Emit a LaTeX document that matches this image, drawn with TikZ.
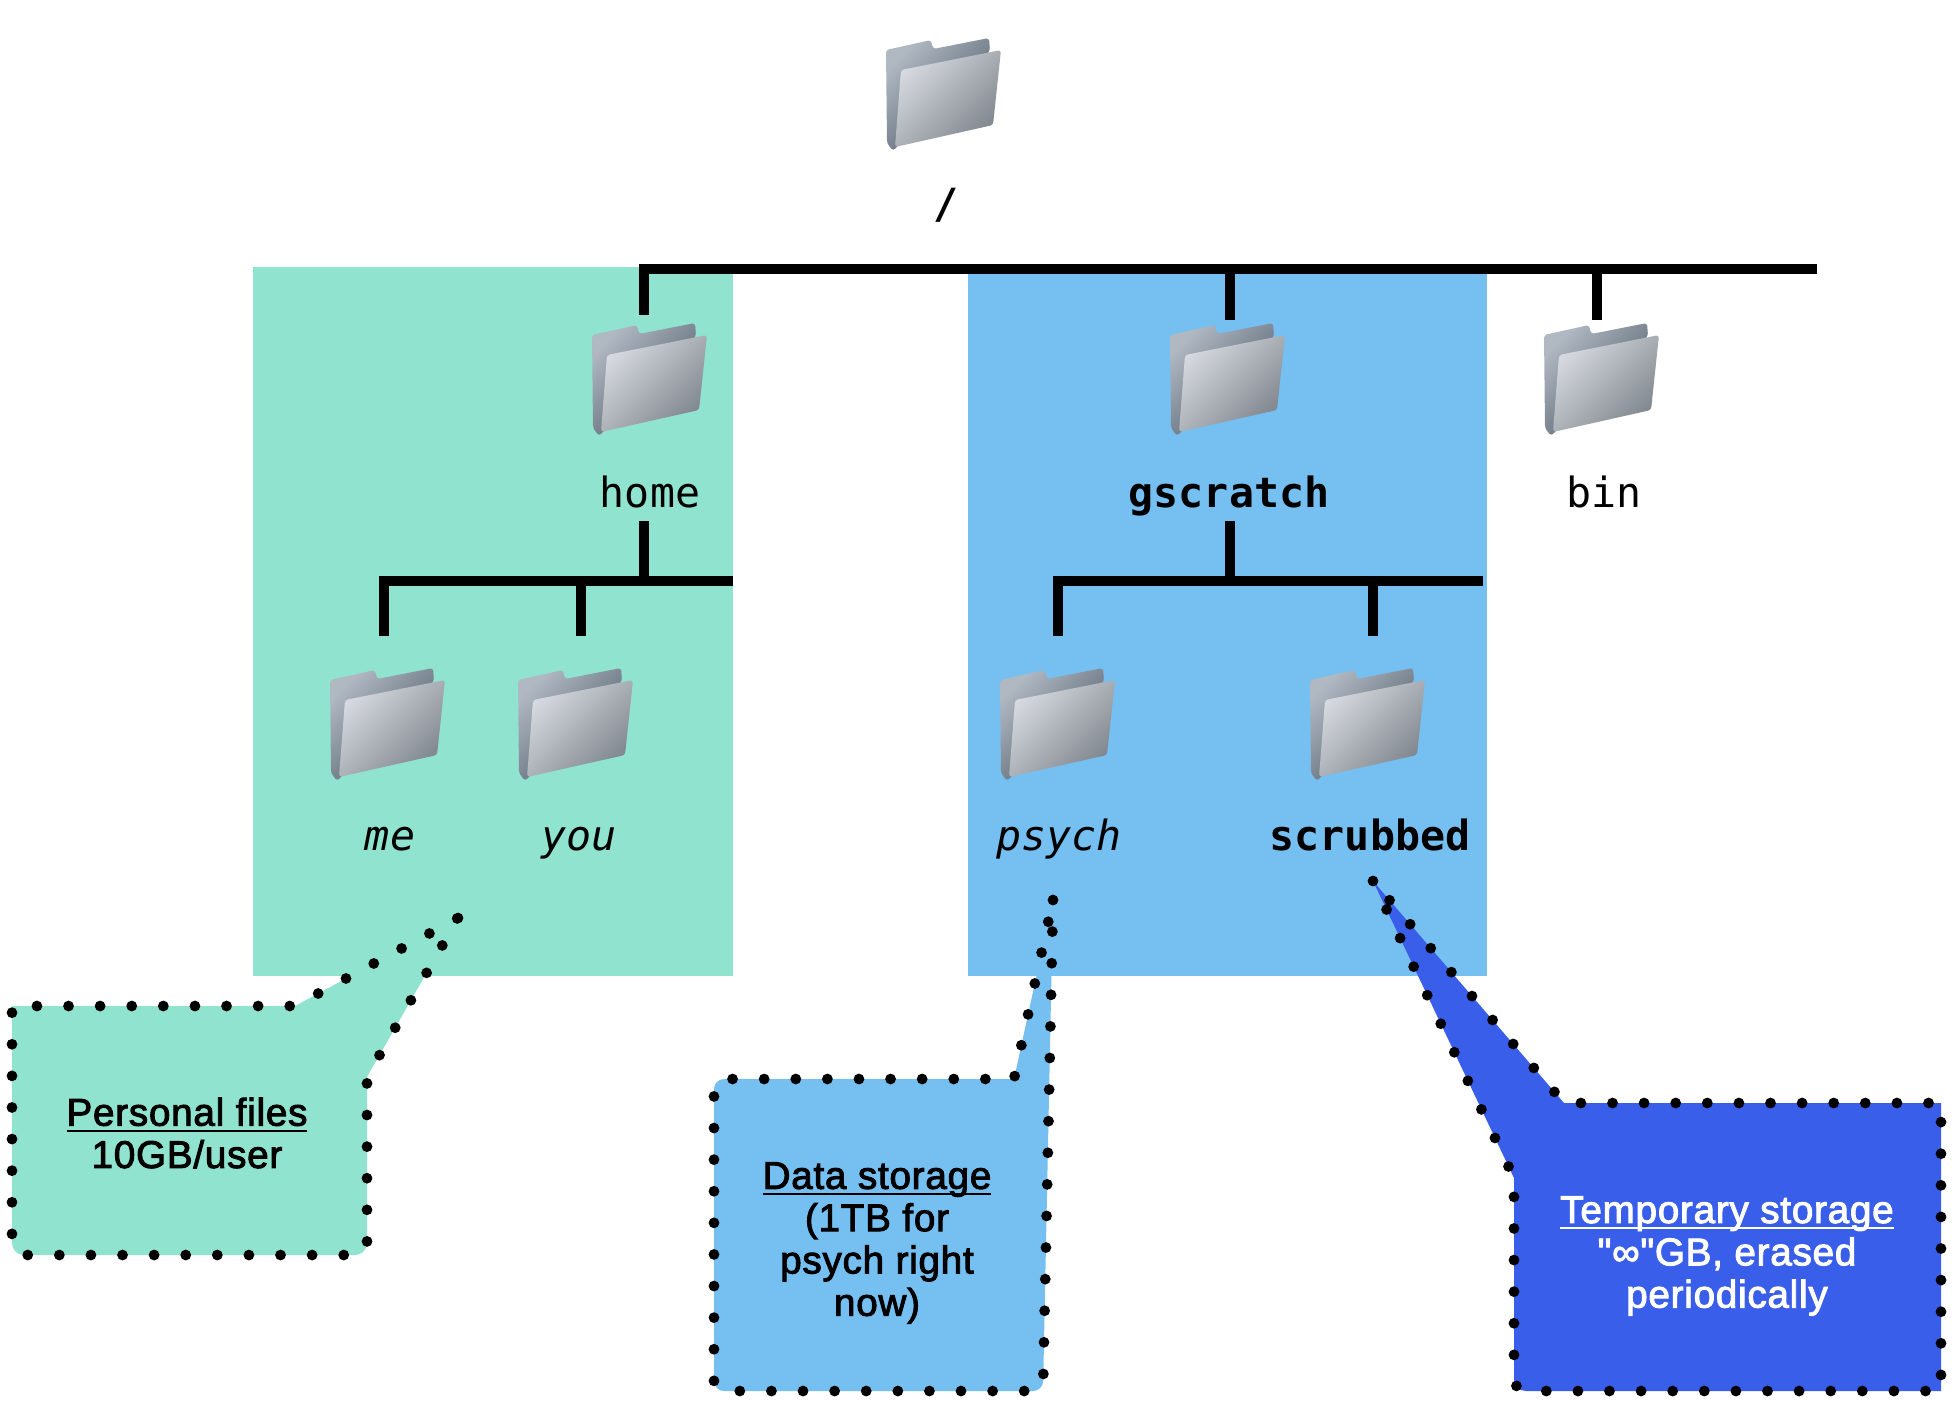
\documentclass[tikz,border=0pt]{standalone}
\usepackage{fontspec}
\setmonofont{DejaVu Sans Mono}
\newfontfamily\callfont[FakeBold=2.5,LetterSpace=2]{Liberation Sans}
\newcommand{\headline}[1]{\leavevmode\setbox0\hbox{#1}\rlap{\rule[-3.2pt]{\wd0}{1.1pt}}\box0}
\definecolor{homegreen}{HTML}{8FE3CF}
\definecolor{scratchblue}{HTML}{75C0F1}
\definecolor{tempblue}{HTML}{395EEA}
\definecolor{frontlight}{HTML}{D6DAE0}
\definecolor{frontdark}{HTML}{80868D}
\definecolor{backlight}{HTML}{B0B8C2}
\definecolor{backdark}{HTML}{4A5764}
\tikzset{
  tree/.style={line width=5pt},
  toplink/.style={tree,shorten >=0.5pt},
  sublink/.style={tree,shorten >=15pt},
  folderbox/.style={minimum width=57.5pt,minimum height=57.5pt,inner sep=0pt},
  dirname/.style={font=\ttfamily\fontsize{20.8}{24}\selectfont,anchor=base,inner sep=0pt},
  callout/.style={line width=5.4pt,line cap=round,dash pattern=on 0pt off 15.8pt},
  calltext/.style={font=\callfont\fontsize{19.3}{21.15}\selectfont,align=center,inner sep=0pt},
  folderart/.pic={
    \shade[top color=backlight,bottom color=backdark,shading angle=45,rounded corners=1.5pt]
      (-58,-44) -- (-13,-54) -- (-11,-45) -- (45,-56) -- (46,-43) -- (-51,57) -- (-57,49) -- cycle;
    \shade[top color=frontlight,bottom color=frontdark,shading angle=45,rounded corners=1.5pt]
      (-43,-24) -- (57,-44) -- (49,31) -- (-49,53) -- cycle;
  }
}
\begin{document}
\begin{tikzpicture}[x=0.5pt,y=-0.5pt]
  \useasboundingbox (0,0) rectangle (1954,1404);
  \fill[homegreen] (253,267) rectangle (733,976);
  \fill[scratchblue] (968,267) rectangle (1487,976);
  % folders
  \foreach \name/\x/\y in {root/944/94,home/650/379,gscratch/1228/379,bin/1602/379,
      me/388/724,you/576/724,psych/1058/724,scrubbed/1368/724} {
    \node[folderbox] (\name) at (\x,\y) {};
    \pic at (\name) {folderart};
  }
  % names
  \node[dirname] (rootname) at (946,218) {\bfseries /};
  \node[dirname] (homename) at (650,507) {home};
  \node[dirname] (gscratchname) at (1229,507) {\bfseries gscratch};
  \node[dirname] (binname) at (1604,507) {bin};
  \node[dirname] (mename) at (390,850) {\itshape me};
  \node[dirname] (youname) at (579,850) {\itshape you};
  \node[dirname] (psychname) at (1059,850) {\itshape psych};
  \node[dirname] (scrubbedname) at (1370,850) {\bfseries scrubbed};
  % top level
  \coordinate (topleft) at (644,269); \coordinate (topright) at (1817,269);
  \coordinate (topmid) at (1230,269); \coordinate (topbin) at (1597,269);
  \draw[tree] (topright) -- (topleft) -- (topleft |- 0,315);
  \draw[toplink] (topmid) -- (topmid |- gscratch.north);
  \draw[toplink] (topbin) -- (topbin |- bin.north);
  % home
  \coordinate (homeleft) at (384,581); \coordinate (homeright) at (733,581);
  \coordinate (homemid) at (644,581); \coordinate (youjoin) at (581,581);
  \draw[sublink] (homeright) -- (homeleft) -- (homeleft |- me.north);
  \draw[tree] (homemid |- 0,521) -- (homemid);
  \draw[sublink] (youjoin) -- (youjoin |- you.north);
  % gscratch
  \coordinate (scratchleft) at (1058,581); \coordinate (scratchright) at (1483,581);
  \coordinate (scratchmid) at (1230,581); \coordinate (scrubjoin) at (1373,581);
  \draw[sublink] (scratchright) -- (scratchleft) -- (scratchleft |- psych.north);
  \draw[tree] (scratchmid |- 0,521) -- (scratchmid);
  \draw[sublink] (scrubjoin) -- (scrubjoin |- scrubbed.north);
  % callouts
  \filldraw[callout,fill=homegreen] (458,918) -- (367,1077) [rounded corners=6pt] -- (367,1255)
    -- (12,1255) [sharp corners] -- (12,1006) -- (295,1006) -- cycle;
  \filldraw[callout,fill=scratchblue] (1053,900) [rounded corners=5pt] -- (1043,1391)
    -- (714,1391) -- (714,1079) [sharp corners] -- (1014,1079) -- cycle;
  \filldraw[callout,fill=tempblue] (1373,881) -- (1514,1178) [rounded corners=6pt] -- (1514,1391)
    [sharp corners] -- (1941,1391) -- (1941,1103) -- (1564,1103) -- cycle;
  \node[calltext] (personal) at (187,1133) {\headline{Personal files}\\10GB/user};
  \node[calltext] (storage) at (877,1243) {\headline{Data storage}\\(1TB for\\psych right\\now)};
  \node[calltext,text=white] (temporary) at (1727,1256) {\headline{Temporary storage}\\"∞"GB, erased\\periodically};
\end{tikzpicture}
\end{document}
